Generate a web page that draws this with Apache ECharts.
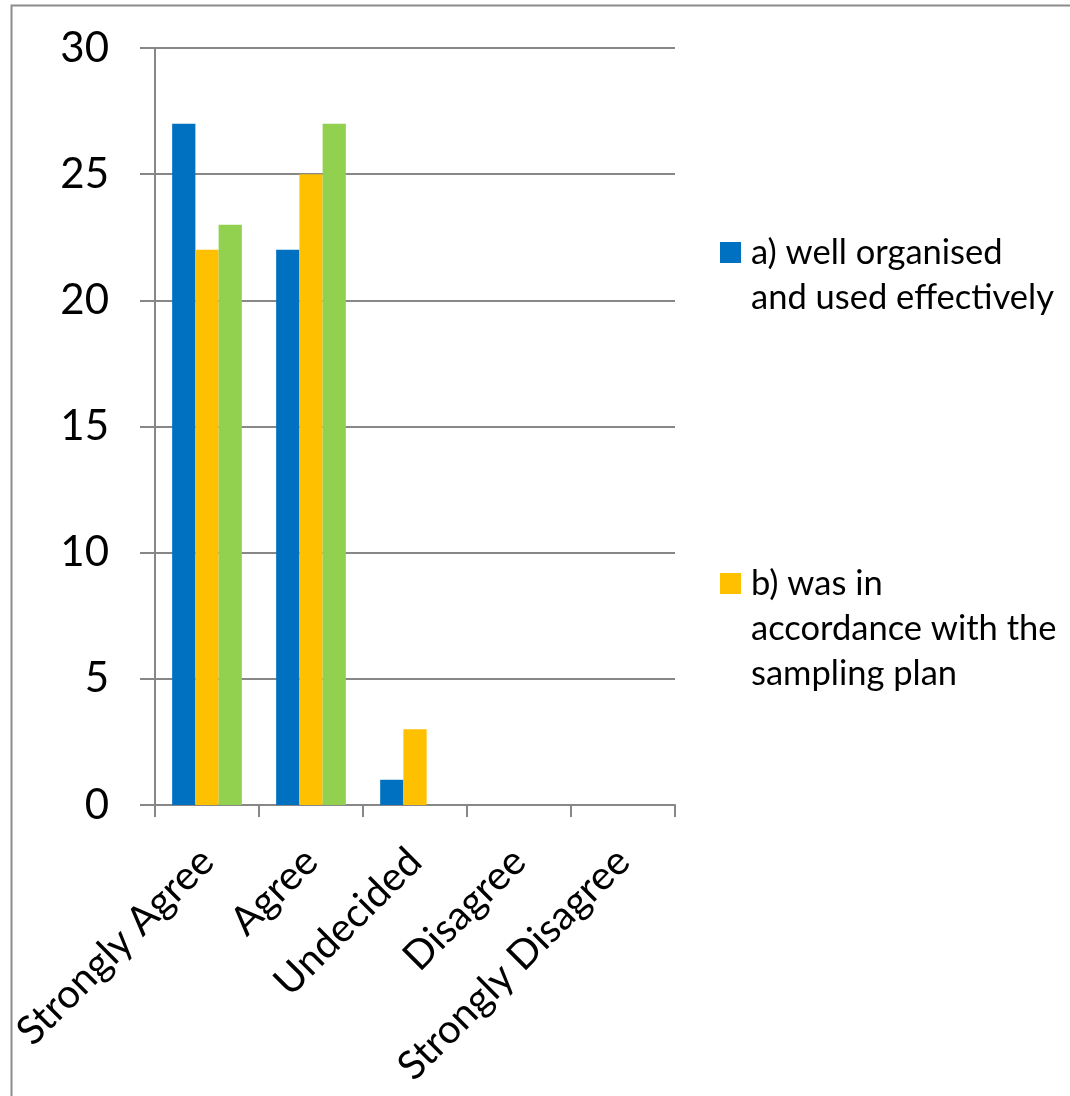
<!DOCTYPE html>
<html>
<head>
<meta charset="utf-8">
<script src="https://cdn.jsdelivr.net/npm/echarts@6/dist/echarts.min.js"></script>
<style>
html,body{margin:0;padding:0;background:#fff;}
#chart{width:1070px;height:1096px;}
</style>
</head>
<body>
<div id="chart"></div>
<script>
const categories = ['Strongly Agree', 'Agree', 'Undecided', 'Disagree', 'Strongly Disagree'];
const seriesNames = ['a) well organised and used effectively', 'b) was in accordance with the sampling plan', 'c)'];
const seriesA = [27, 22, 1, 0, 0];
const seriesB = [22, 25, 3, 0, 0];
const seriesC = [23, 27, 0, 0, 0];
const yTicks = [0, 5, 10, 15, 20, 25, 30];
const legendLines = {
  'a) well organised and used effectively': ['a) well organised', 'and used effectively'],
  'b) was in accordance with the sampling plan': ['b) was in', 'accordance with the', 'sampling plan']
};

const colors = ['#0070C0', '#FFC000', '#92D050'];
const FONT = 'Lato';
const chart = echarts.init(document.getElementById('chart'));
const gray = '#878787';

function legendFor(name, top) {
  const lines = legendLines[name];
  // pad with blank lines before so the icon sits beside the first line
  const blanks = new Array(lines.length - 1).fill('');
  return {
    orient: 'vertical',
    left: 720,
    top: top,
    itemWidth: 21,
    itemHeight: 21,
    itemGap: 0,
    padding: 0,
    icon: 'rect',
    data: [name],
    formatter: n => blanks.concat(legendLines[n]).join('\n'),
    textStyle: {fontFamily: FONT, fontSize: 34.5, lineHeight: 45, color: '#000', padding: [0, 0, 0, 5]},
    selectedMode: false
  };
}

chart.setOption({
  animation: false,
  color: colors,
  graphic: [{
    type: 'rect',
    shape: {x: 11.5, y: 5.5, width: 1200, height: 1200},
    style: {fill: 'none', stroke: '#8c8c8c', lineWidth: 2},
    z: -10
  }],
  legend: [legendFor(seriesNames[0], 252 - 22 - 45), legendFor(seriesNames[1], 583 - 22 - 90)],
  grid: {left: 155, top: 48, right: 395, bottom: 291, containLabel: false, outerBoundsMode: 'none'},
  xAxis: {
    type: 'category',
    data: categories,
    boundaryGap: true,
    axisLine: {lineStyle: {color: gray, width: 2}},
    axisTick: {show: true, length: 12, lineStyle: {color: gray, width: 2}},
    axisLabel: {rotate: 45, fontFamily: FONT, fontSize: 40, color: '#000', margin: 50, interval: 0}
  },
  yAxis: {
    type: 'value',
    min: yTicks[0],
    max: yTicks[yTicks.length - 1],
    interval: 5,
    axisLine: {show: true, lineStyle: {color: gray, width: 2}},
    axisTick: {show: true, inside: false, length: 15, lineStyle: {color: gray, width: 2}},
    splitLine: {lineStyle: {color: gray, width: 2}},
    axisLabel: {fontFamily: FONT, fontSize: 42, color: '#000', margin: 46}
  },
  series: [
    {name: seriesNames[0], type: 'bar', data: seriesA, barGap: '0%', barCategoryGap: '33%'},
    {name: seriesNames[1], type: 'bar', data: seriesB, barGap: '0%', barCategoryGap: '33%'},
    {name: seriesNames[2], type: 'bar', data: seriesC, barGap: '0%', barCategoryGap: '33%'}
  ]
});
</script>
</body>
</html>
